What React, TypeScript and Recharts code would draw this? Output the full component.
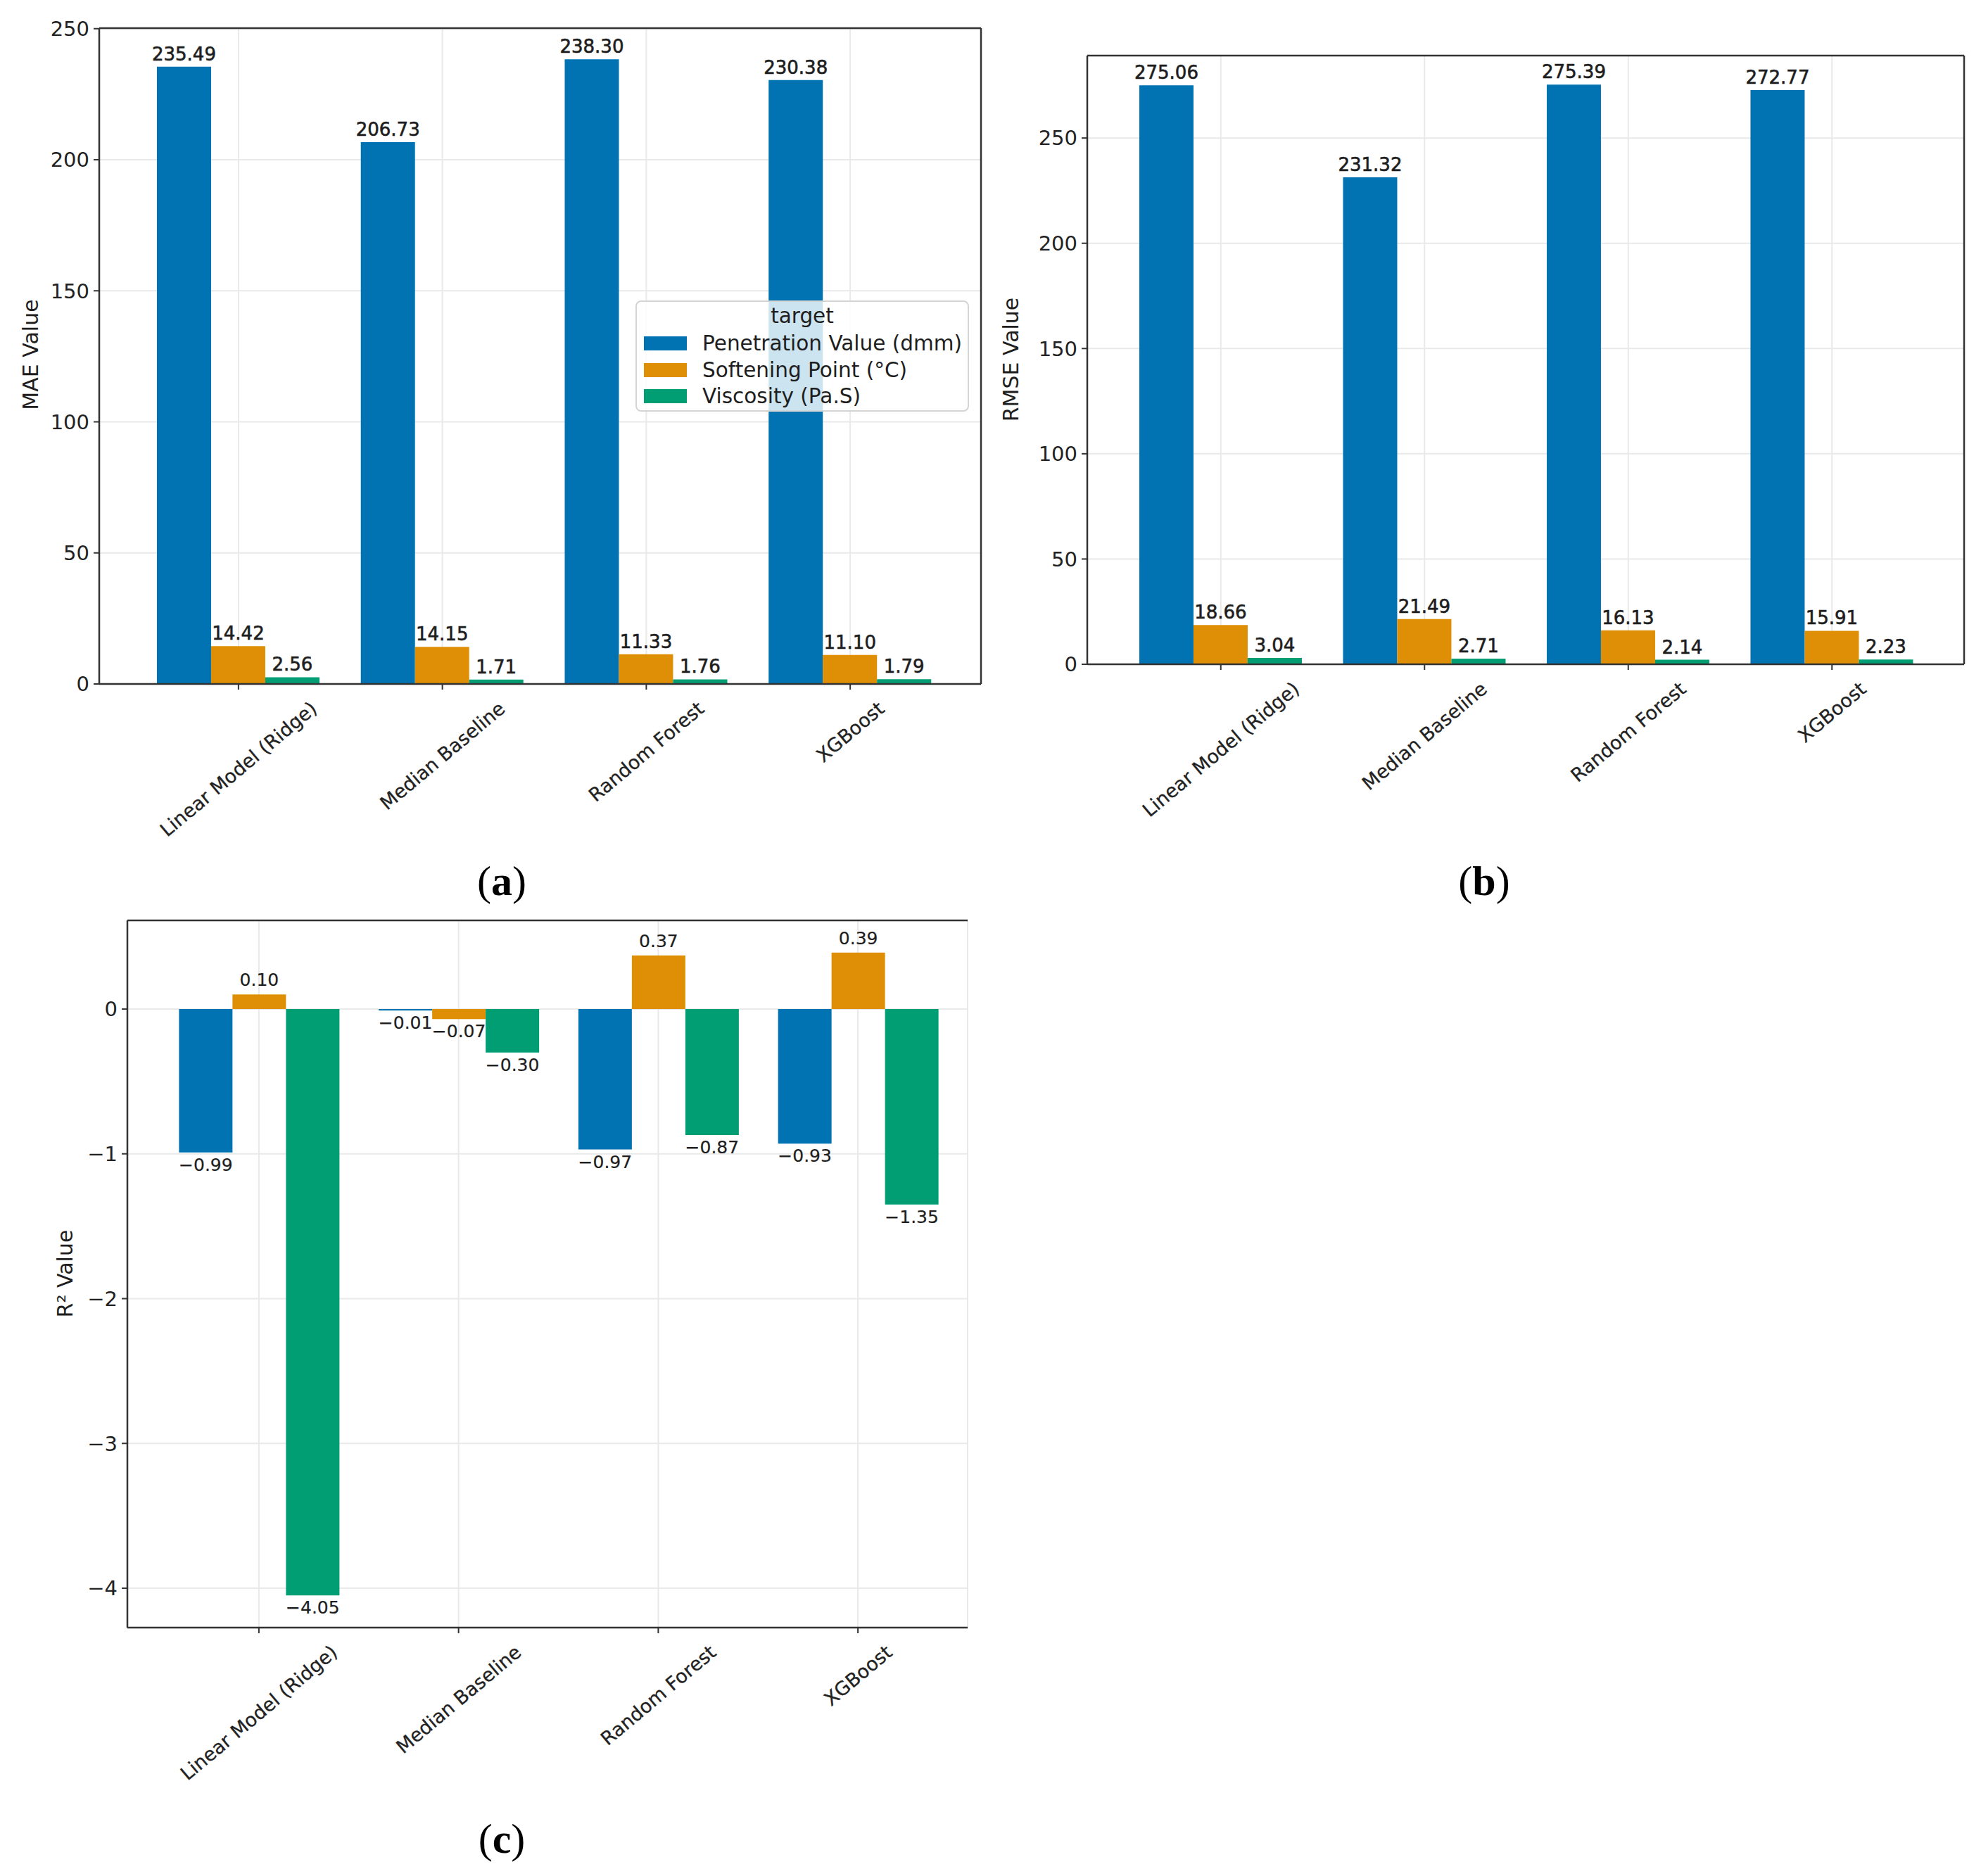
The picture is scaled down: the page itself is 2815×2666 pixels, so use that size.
import React from "react";
import {
  BarChart,
  Bar,
  XAxis,
  YAxis,
  CartesianGrid,
  LabelList,
  Legend,
} from "recharts";

const models = [
  "Linear Model (Ridge)",
  "Median Baseline",
  "Random Forest",
  "XGBoost",
];
const targetNames = [
  "Penetration Value (dmm)",
  "Softening Point (°C)",
  "Viscosity (Pa.S)",
];
const targetColors = ["#0173b2", "#de8f05", "#029e73"];

// MAE
const maePenetration = [235.49, 206.73, 238.3, 230.38];
const maeSoftening = [14.42, 14.15, 11.33, 11.1];
const maeViscosity = [2.56, 1.71, 1.76, 1.79];

// RMSE
const rmsePenetration = [275.06, 231.32, 275.39, 272.77];
const rmseSoftening = [18.66, 21.49, 16.13, 15.91];
const rmseViscosity = [3.04, 2.71, 2.14, 2.23];

// R2
const r2Penetration = [-0.99, -0.01, -0.97, -0.93];
const r2Softening = [0.1, -0.07, 0.37, 0.39];
const r2Viscosity = [-4.05, -0.3, -0.87, -1.35];

const maeTicks = [0, 50, 100, 150, 200, 250];
const rmseTicks = [0, 50, 100, 150, 200, 250];
const r2Ticks = [-4, -3, -2, -1, 0];

const FONT = "DejaVu Sans, Verdana, sans-serif";
const SPINE = "#333333";
const GRID = "#e9e9e9";
const CAT_FONT = 27;
const ANGLE = 40;

type Row = { model: string; pen: number; soft: number; visc: number };

const buildRows = (a: number[], b: number[], c: number[]): Row[] =>
  models.map((model, i) => ({ model, pen: a[i], soft: b[i], visc: c[i] }));

const maeRows = buildRows(maePenetration, maeSoftening, maeViscosity);
const rmseRows = buildRows(rmsePenetration, rmseSoftening, rmseViscosity);
const r2Rows = buildRows(r2Penetration, r2Softening, r2Viscosity);

const seriesKeys = ["pen", "soft", "visc"];

const minus = (s: string) => s.replace("-", "\u2212");

let measureCtx: CanvasRenderingContext2D | null = null;
function textWidth(s: string, size: number) {
  if (!measureCtx && typeof document !== "undefined") {
    measureCtx = document.createElement("canvas").getContext("2d");
  }
  if (!measureCtx) return s.length * size * 0.6;
  measureCtx.font = `${size}px "DejaVu Sans"`;
  return measureCtx.measureText(s).width;
}

// rotated category label, its bounding box centred under the tick
const CategoryTick = (props: any) => {
  const { x, y, payload } = props;
  const rad = (ANGLE * Math.PI) / 180;
  const len = textWidth(payload.value, CAT_FONT);
  const h = len * Math.sin(rad) + CAT_FONT * 0.95 * Math.cos(rad);
  const cy = y + 11 + h / 2;
  return (
    <text
      x={x}
      y={cy}
      transform={`rotate(-${ANGLE} ${x} ${cy})`}
      textAnchor="middle"
      dominantBaseline="central"
      fontSize={CAT_FONT}
      fontFamily={FONT}
      fill="#222"
      stroke="#222"
      strokeWidth={0.3}
    >
      {payload.value}
    </text>
  );
};

const makeValueLabel = (size: number, upGap: number, heavy: number) => (props: any) => {
  const { x, y, width, height, value } = props;
  if (value === undefined || value === null) return null;
  const top = Math.min(y, y + height);
  const bottom = Math.max(y, y + height);
  const neg = value < 0;
  return (
    <text
      x={x + width / 2}
      y={neg ? bottom + size + 1 : top - upGap}
      textAnchor="middle"
      fontSize={size}
      fontFamily={FONT}
      fill="#1e1e1e"
      stroke="#1e1e1e"
      strokeWidth={heavy}
    >
      {minus(Number(value).toFixed(2))}
    </text>
  );
};

const renderLegend = (props: any) => {
  const items = props.payload || [];
  return (
    <div
      style={{
        position: "relative",
        boxSizing: "border-box",
        width: 474,
        height: 158,
        background: "rgba(255,255,255,0.8)",
        border: "2px solid #d4d4d4",
        borderRadius: 8,
        fontFamily: FONT,
        fontSize: 29.5,
        color: "#1e1e1e",
      }}
    >
      <div
        style={{
          position: "absolute",
          left: 0,
          right: 0,
          top: 3,
          textAlign: "center",
          lineHeight: "34px",
        }}
      >
        target
      </div>
      {items.map((it: any, i: number) => (
        <div
          key={it.value}
          style={{
            position: "absolute",
            left: 10,
            top: 42 + i * 37.5,
            height: 34,
            display: "flex",
            alignItems: "center",
          }}
        >
          <span
            style={{
              display: "inline-block",
              width: 61,
              height: 20,
              background: it.color,
              marginRight: 22,
            }}
          />
          <span style={{ lineHeight: "34px", whiteSpace: "nowrap" }}>{it.value}</span>
        </div>
      ))}
    </div>
  );
};

type PanelProps = {
  rows: Row[];
  ticks: number[];
  domain: [number, number];
  yLabel: string;
  left: number;
  top: number;
  width: number;
  height: number;
  margin: { top: number; right: number; left: number; bottom: number };
  yAxisWidth: number;
  xAxisHeight: number;
  pad: { left: number; right: number };
  valueSize: number;
  upGap: number;
  heavy: number;
  titleAt: [number, number];
  showLegend?: boolean;
  rightSpine?: boolean;
};

function Panel(p: PanelProps) {
  const valueLabel = makeValueLabel(p.valueSize, p.upGap, p.heavy);
  return (
    <div style={{ position: "absolute", left: p.left, top: p.top }}>
      <BarChart
        width={p.width}
        height={p.height}
        data={p.rows}
        margin={p.margin}
        barCategoryGap="10%"
        barGap={0}
      >
        <CartesianGrid stroke={GRID} strokeWidth={2} />
        {/* top (and right) frame lines of the axes box */}
        <CartesianGrid
          stroke={SPINE}
          strokeWidth={2.5}
          vertical={!!p.rightSpine}
          horizontalCoordinatesGenerator={({ offset }: any) => [offset.top]}
          verticalCoordinatesGenerator={({ offset }: any) => [
            offset.left + offset.width,
          ]}
        />
        <XAxis
          dataKey="model"
          height={p.xAxisHeight}
          padding={p.pad}
          interval={0}
          tickSize={8}
          tickLine={{ stroke: SPINE, strokeWidth: 2 }}
          axisLine={{ stroke: SPINE, strokeWidth: 2.5 }}
          tick={<CategoryTick />}
        />
        <YAxis
          type="number"
          domain={p.domain}
          ticks={p.ticks}
          width={p.yAxisWidth}
          tickSize={8}
          tickMargin={6}
          tickFormatter={(v: number) => minus(String(v))}
          tick={{ fontSize: 29, fontFamily: FONT, fill: "#222" }}
          tickLine={{ stroke: SPINE, strokeWidth: 2 }}
          axisLine={{ stroke: SPINE, strokeWidth: 2.5 }}
          label={{
            content: () => (
              <text
                x={p.titleAt[0]}
                y={p.titleAt[1]}
                transform={`rotate(-90 ${p.titleAt[0]} ${p.titleAt[1]})`}
                textAnchor="middle"
                dominantBaseline="central"
                fontSize={30}
                fontFamily={FONT}
                fill="#1e1e1e"
              >
                {p.yLabel}
              </text>
            ),
          }}
        />
        {seriesKeys.map((k, i) => (
          <Bar
            key={k}
            dataKey={k}
            name={targetNames[i]}
            fill={targetColors[i]}
            isAnimationActive={false}
          >
            <LabelList dataKey={k} content={valueLabel} />
          </Bar>
        ))}
        {p.showLegend && (
          <Legend
            layout="horizontal"
            verticalAlign="middle"
            align="center"
            wrapperStyle={{ left: 903, top: 427, width: 474, height: 158 }}
            content={renderLegend}
          />
        )}
      </BarChart>
    </div>
  );
}

const Caption = ({ x, y, letter }: { x: number; y: number; letter: string }) => (
  <text
    x={x}
    y={y}
    textAnchor="middle"
    fontSize={60}
    fontFamily="Liberation Serif, Times New Roman, serif"
    fill="#000"
  >
    (<tspan fontWeight="bold">{letter}</tspan>)
  </text>
);

export default function App() {
  return (
    <div
      style={{
        position: "absolute",
        left: 0,
        top: 0,
        width: 2815,
        height: 2666,
        background: "#ffffff",
        overflow: "hidden",
      }}
    >
      <Panel
        rows={maeRows}
        ticks={maeTicks}
        domain={[0, 250.2]}
        yLabel="MAE Value"
        left={0}
        top={0}
        width={1420}
        height={1240}
        margin={{ top: 40, right: 26, left: 0, bottom: 0 }}
        yAxisWidth={141}
        xAxisHeight={268}
        pad={{ left: 53, right: 41 }}
        valueSize={26}
        upGap={9}
        heavy={0.6}
        titleAt={[43, 504]}
        showLegend
        rightSpine
      />
      <Panel
        rows={rmseRows}
        ticks={rmseTicks}
        domain={[0, 289.16]}
        yLabel="RMSE Value"
        left={1400}
        top={0}
        width={1415}
        height={1240}
        margin={{ top: 79, right: 24, left: 0, bottom: 0 }}
        yAxisWidth={145}
        xAxisHeight={296}
        pad={{ left: 45, right: 43 }}
        valueSize={26}
        upGap={9}
        heavy={0.6}
        titleAt={[36, 511]}
        rightSpine
      />
      <Panel
        rows={r2Rows}
        ticks={r2Ticks}
        domain={[-4.272, 0.612]}
        yLabel="R² Value"
        left={0}
        top={1290}
        width={1420}
        height={1290}
        margin={{ top: 18, right: 45, left: 0, bottom: 0 }}
        yAxisWidth={181}
        xAxisHeight={267}
        pad={{ left: 45, right: 14 }}
        valueSize={25}
        upGap={12}
        heavy={0.2}
        titleAt={[92, 520]}
      />
      <svg
        width={2815}
        height={2666}
        style={{ position: "absolute", left: 0, top: 0, pointerEvents: "none" }}
      >
        <Caption x={713} y={1272} letter="a" />
        <Caption x={2109} y={1272} letter="b" />
        <Caption x={713} y={2633} letter="c" />
      </svg>
    </div>
  );
}
